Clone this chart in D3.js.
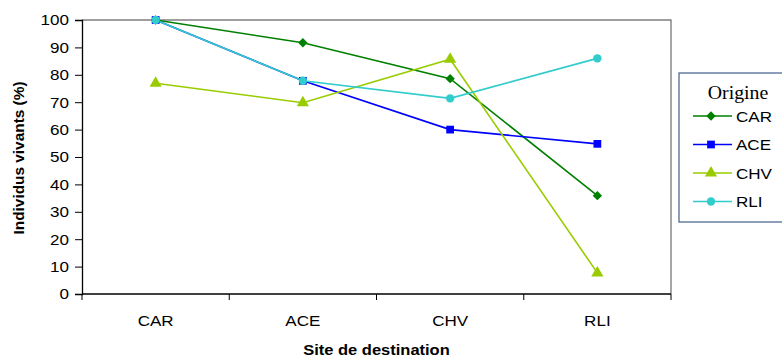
<!DOCTYPE html>
<html><head><meta charset="utf-8">
<script src="https://cdn.jsdelivr.net/npm/d3@7"></script>
<style>body{margin:0;background:#fff}svg{display:block}</style>
</head><body>
<script>
const categories = ["CAR","ACE","CHV","RLI"];
const seriesNames = ["CAR","ACE","CHV","RLI"];
const valuesCAR = [100, 91.7, 78.6, 35.9];
const valuesACE = [100, 77.8, 60, 54.8];
const valuesCHV = [76.9, 69.8, 85.7, 7.7];
const valuesRLI = [100, 77.8, 71.4, 86];
const yTicks = [0,10,20,30,40,50,60,70,80,90,100];
const colors = ["#008000","#0000FF","#99CC00","#33CCCC"];
const symbols = [d3.symbolSquare, d3.symbolSquare, d3.symbolTriangle, d3.symbolCircle];
const symRot = [45, 0, 0, 0];
const symSizes = [44, 60, 64, 56];
const series = [valuesCAR, valuesACE, valuesCHV, valuesRLI];

const SANS = "Liberation Sans, Arial, sans-serif";
const SX = 1.1; // horizontal stretch of text in reference
const W = 782, H = 361;
const m = {left:82, right:671, top:20, bottom:294};
const svg = d3.select("body").append("svg").attr("width",W).attr("height",H);
const x = d3.scaleBand().domain(categories).range([m.left, m.right]).padding(0);
const y = d3.scaleLinear().domain([0,100]).range([m.bottom, m.top]);

function stretchText(g, px, py, txt, opts){
  const t = g.append("text").attr("transform",`translate(${px},${py}) scale(${SX},1)`)
    .attr("font-family",opts.family||SANS).attr("font-size",opts.size)
    .attr("text-anchor",opts.anchor||"start").attr("fill","#000").text(txt);
  if(opts.bold) t.attr("font-weight","bold");
  return t;
}

// frame (top & right gray)
svg.append("path").attr("d",`M${m.left},${m.top}H${m.right}V${m.bottom}`)
  .attr("fill","none").attr("stroke","#808080").attr("stroke-width",1.4);

// y axis
const ya = svg.append("g").attr("transform",`translate(${m.left},0)`)
  .call(d3.axisLeft(y).tickValues(yTicks).tickSize(7).tickPadding(6));
ya.select(".domain").attr("stroke","#000").attr("stroke-width",1.3);
ya.selectAll(".tick line").attr("stroke","#000");
ya.selectAll(".tick text").each(function(){
  const t = d3.select(this); const xv = +t.attr("x");
  t.attr("x",0).attr("transform",`translate(${xv},0) scale(${SX},1)`)
   .attr("font-family",SANS).attr("font-size",15.5).attr("fill","#000");
});

// x axis with ticks at band boundaries
const xa = svg.append("g").attr("transform",`translate(0,${m.bottom})`);
xa.append("line").attr("x1",m.left).attr("x2",m.right).attr("stroke","#000").attr("stroke-width",1.3);
const bounds = categories.map(c=>x(c)).concat([m.right]);
xa.selectAll("line.t").data(bounds).join("line").attr("class","t")
  .attr("x1",d=>d).attr("x2",d=>d).attr("y1",0).attr("y2",6).attr("stroke","#000");
categories.forEach(c=>stretchText(xa, x(c)+x.bandwidth()/2, 32, c, {size:15.5, anchor:"middle"}));

// axis titles
svg.append("text").attr("transform",`translate(24,${(m.top+m.bottom)/2+1}) rotate(-90) scale(${SX},1)`)
  .attr("text-anchor","middle").attr("font-family",SANS)
  .attr("font-weight","bold").attr("font-size",14).text("Individus vivants (%)");
stretchText(svg, (m.left+m.right)/2, 355, "Site de destination", {size:15, anchor:"middle", bold:true});

// series
const line = d3.line().x((d,i)=>x(categories[i])+x.bandwidth()/2).y(d=>y(d));
series.forEach((vals,s)=>{
  svg.append("path").datum(vals).attr("d",line).attr("fill","none")
    .attr("stroke",colors[s]).attr("stroke-width",1.6);
});
series.forEach((vals,s)=>{
  svg.selectAll(null).data(vals).join("path")
    .attr("transform",(d,i)=>`translate(${x(categories[i])+x.bandwidth()/2},${y(d)}) rotate(${symRot[s]})`)
    .attr("d",d3.symbol(symbols[s],symSizes[s])).attr("fill",colors[s]);
});

// legend
const lg = svg.append("g");
lg.append("rect").attr("x",679).attr("y",73).attr("width",110).attr("height",149)
  .attr("fill","#fff").attr("stroke","#4F6A94").attr("stroke-width",1.3);
stretchText(lg, 738, 99, "Origine", {size:18, anchor:"middle", family:"Liberation Serif, Times New Roman, serif"});
seriesNames.forEach((n,s)=>{
  const yy = 116 + s*28.5;
  lg.append("line").attr("x1",693).attr("x2",732).attr("y1",yy).attr("y2",yy)
    .attr("stroke",colors[s]).attr("stroke-width",1.6);
  lg.append("path").attr("transform",`translate(711,${yy}) rotate(${symRot[s]})`)
    .attr("d",d3.symbol(symbols[s],symSizes[s])).attr("fill",colors[s]);
  stretchText(lg, 736, yy+5.5, n, {size:15.5});
});
</script>
</body></html>
